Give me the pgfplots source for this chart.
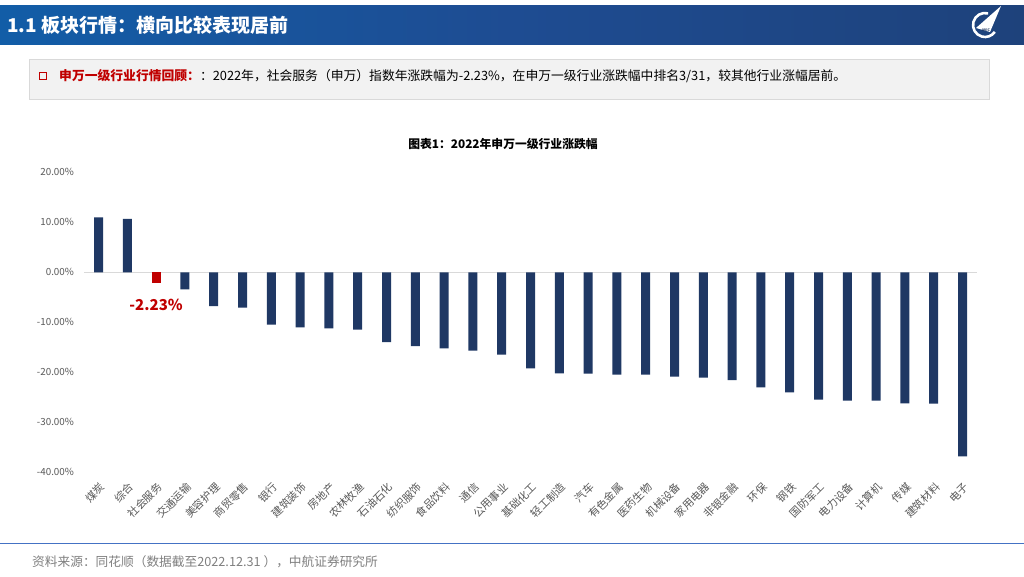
\documentclass[border=0pt]{standalone}
\usepackage{fontspec}
\setmainfont{Noto Sans CJK SC}
\usepackage{pgfplots}
\pgfplotsset{compat=1.18}

\definecolor{navy}{RGB}{31,56,100}
\definecolor{hred}{RGB}{192,0,0}
\definecolor{tickgray}{RGB}{89,89,89}
\definecolor{boxgray}{RGB}{242,242,242}
\definecolor{boxedge}{RGB}{217,217,217}
\definecolor{hdrL}{RGB}{6,110,188}
\definecolor{hdrM}{RGB}{30,76,146}
\definecolor{srcgray}{RGB}{128,128,128}
\definecolor{lineblue}{RGB}{68,114,196}

\pgfdeclarehorizontalshading{hdr}{100bp}{color(0bp)=(hdrL); color(50bp)=(hdrM); color(100bp)=(navy)}

\begin{document}
\begin{tikzpicture}[x=1pt,y=1pt]
\useasboundingbox (0,0) rectangle (1024,576);
\fill[white] (0,0) rectangle (1024,576);

% header
\shade[shading=hdr] (0,531) rectangle (1024,570);
\node[anchor=west, inner sep=0pt, text=white, font=\fontsize{19}{22}\selectfont\bfseries] at (7,551) {1.1 板块行情：横向比较表现居前};
% logo
\draw[white, line width=2.6pt] (985,551) ++(75:12) arc (75:325:12);
\fill[white] (976,548) -- (1001,570) -- (990,544) -- cycle;
\node[text=navy, font=\fontsize{3.5}{4}\selectfont\bfseries, inner sep=0pt] at (986,546) {AVIC};

% summary box
\filldraw[fill=boxgray, draw=boxedge] (29,477) rectangle (989,517);
\draw[hred, line width=1.5pt] (39.5,496.5) rectangle (46.5,503.5);
\node[anchor=west, inner sep=0pt, font=\fontsize{12.8}{15}\selectfont] at (59,500)
  {{\color{hred}\bfseries 申万一级行业行情回顾：}：2022年，社会服务（申万）指数年涨跌幅为-2.23\%，在申万一级行业涨跌幅中排名3/31，较其他行业涨幅居前。};

% chart title
\node[font=\fontsize{11.8}{14}\selectfont\bfseries] at (503,432) {图表1：2022年申万一级行业涨跌幅};

\begin{axis}[
  at={(84.1pt,103.7pt)}, anchor=south west,
  scale only axis, width=892.8pt, height=300pt,
  xmin=-0.5, xmax=30.5, ymin=-40, ymax=20,
  axis x line*=bottom, axis y line*=left,
  x axis line style={draw=none}, y axis line style={draw=none},
  major tick length=0pt,
  xtick={0,...,30},
  xticklabels={煤炭,综合,社会服务,交通运输,美容护理,商贸零售,银行,建筑装饰,房地产,农林牧渔,石油石化,纺织服饰,食品饮料,通信,公用事业,基础化工,轻工制造,汽车,有色金属,医药生物,机械设备,家用电器,非银金融,环保,钢铁,国防军工,电力设备,计算机,传媒,建筑材料,电子},
  xticklabel style={rotate=45, anchor=east, inner sep=0pt, yshift=-12pt, xshift=-6pt, text=tickgray, font=\fontsize{10.8}{12}\selectfont},
  ytick={-40,-30,...,20},
  yticklabel={\pgfmathprintnumber[fixed,fixed zerofill,precision=2]{\tick}\%},
  yticklabel style={anchor=east, inner sep=0pt, xshift=-10pt, text=tickgray, font=\fontsize{9.8}{11}\selectfont},
  /pgf/number format/assume math mode=true,
]
\draw[boxedge, line width=1pt] (axis cs:-0.5,0) -- (axis cs:30.5,0);
\addplot[ybar, bar width=9pt, bar shift=0pt, fill=navy, draw=none] coordinates {
(0,10.98) (1,10.66) (3,-3.40) (4,-6.75) (5,-7.08) (6,-10.47) (7,-11.00) (8,-11.20)
(9,-11.47) (10,-13.94) (11,-14.74) (12,-15.20) (13,-15.68) (14,-16.48) (15,-19.20)
(16,-20.20) (17,-20.28) (18,-20.48) (19,-20.48) (20,-20.88) (21,-21.08) (22,-21.54)
(23,-23.00) (24,-24.00) (25,-25.48) (26,-25.68) (27,-25.68) (28,-26.20) (29,-26.28)
(30,-36.80)
};
\addplot[ybar, bar width=9pt, bar shift=0pt, fill=hred, draw=none] coordinates {(2,-2.23)};
\node[text=hred, font=\fontsize{15}{18}\selectfont\bfseries] at (axis cs:2,-6.55) {-2.23\%};
\end{axis}

% footer
\draw[lineblue, line width=1pt] (0,33) -- (1024,33);
\node[anchor=west, inner sep=0pt, text=srcgray, font=\fontsize{12.7}{14}\selectfont] at (32,14) {资料来源：同花顺（数据截至2022.12.31 ），中航证券研究所};
\end{tikzpicture}
\end{document}
